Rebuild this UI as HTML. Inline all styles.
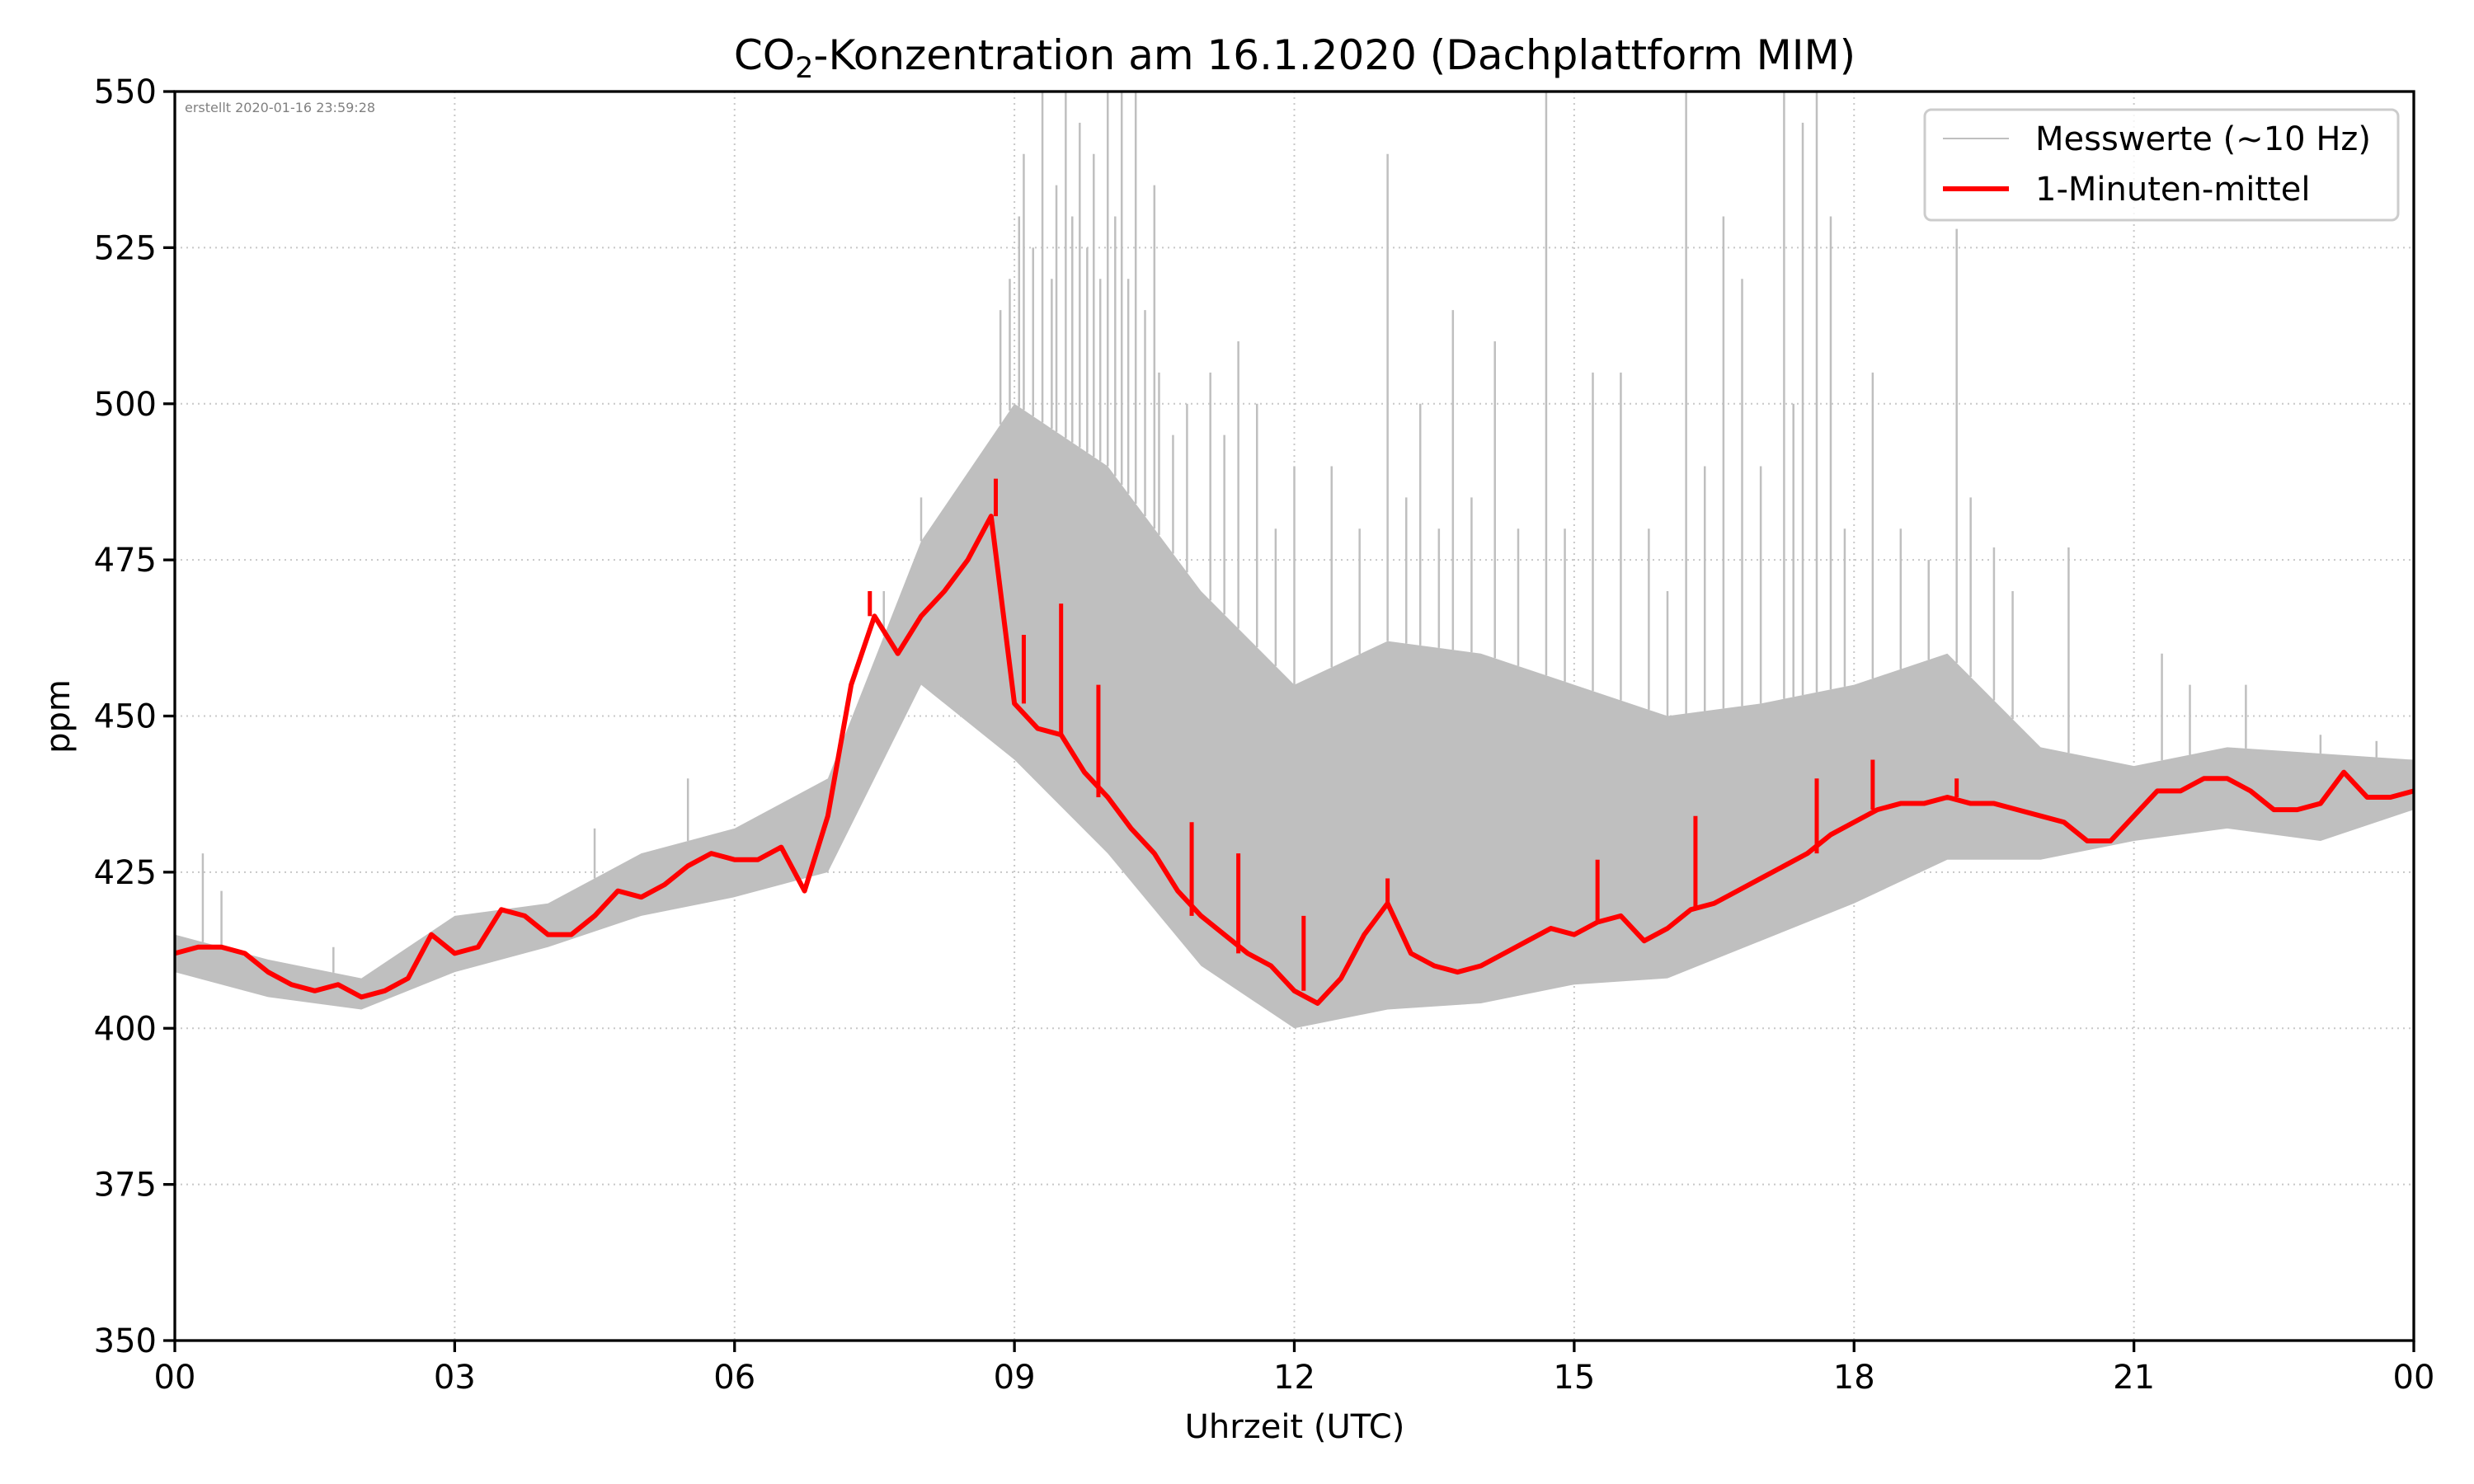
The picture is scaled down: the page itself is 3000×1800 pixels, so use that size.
<!DOCTYPE html>
<html><head><meta charset="utf-8"><style>
body{margin:0;background:#fff}
svg{display:block;font-family:"DejaVu Sans","Liberation Sans",sans-serif}
</style></head><body>
<svg id="chart" width="3000" height="1800" viewBox="0 0 3000 1800" xmlns="http://www.w3.org/2000/svg">
<rect width="3000" height="1800" fill="#fff"/>
<g id="grid"></g>
<g id="plot"></g>
<g id="axes"></g>
<text x="1570" y="84" font-size="50" text-anchor="middle">CO<tspan font-size="35" dy="10">2</tspan><tspan dy="-10">-Konzentration am 16.1.2020 (Dachplattform MIM)</tspan></text>
<text x="224" y="136" font-size="16" fill="#808080">erstellt 2020-01-16 23:59:28</text>
<text x="1570" y="1744" font-size="40" text-anchor="middle">Uhrzeit (UTC)</text>
<text transform="translate(84,869) rotate(-90)" font-size="40" text-anchor="middle">ppm</text>
<g>
<rect x="2334" y="133" width="574" height="134" rx="8" fill="#fff" fill-opacity="0.8" stroke="#ccc" stroke-width="3"/>
<line x1="2356" y1="168" x2="2436" y2="168" stroke="#bfbfbf" stroke-width="2"/>
<text x="2468" y="182" font-size="40">Messwerte (~10 Hz)</text>
<line x1="2356" y1="229" x2="2436" y2="229" stroke="#f00" stroke-width="6"/>
<text x="2468" y="243" font-size="40">1-Minuten-mittel</text>
</g>
</svg>
<script>
const xTicks=[0,3,6,9,12,15,18,21,24];
const xTickLabels=["00","03","06","09","12","15","18","21","00"];
const yTicks=[350,375,400,425,450,475,500,525,550];
const meanValues=[412,413,413,412,409,407,406,407,405,406,408,415,412,413,419,418,415,415,418,422,421,423,426,428,427,427,429,422,434,455,466,460,466,470,475,482,452,448,447,441,437,432,428,422,418,415,412,410,406,404,408,415,420,412,410,409,410,412,414,416,415,417,418,414,416,419,420,422,424,426,428,431,433,435,436,436,437,436,436,435,434,433,430,430,434,438,438,440,440,438,435,435,436,441,437,437,438];
const meanPeaks=[[9.1,463],[9.5,468],[9.9,455],[10.9,433],[11.4,428],[12.1,418],[13.0,424],[15.25,427],[16.3,434],[17.6,440],[18.2,443],[19.1,440],[8.8,488],[7.45,470]];
const rawLow=[409,405,403,409,413,418,421,425,455,443,428,410,400,403,404,407,408,414,420,427,427,430,432,430,435];
const rawHigh=[415,411,408,418,420,428,432,440,478,500,490,470,455,462,460,455,450,452,455,460,445,442,445,444,443];
const rawSpikes=[[8.85,515],[8.95,520],[9.05,530],[9.1,540],[9.2,525],[9.3,550],[9.4,520],[9.45,535],[9.55,550],[9.62,530],[9.7,545],[9.78,525],[9.85,540],[9.92,520],[10.0,550],[10.08,530],[10.15,550],[10.22,520],[10.3,550],[10.4,515],[10.5,535],[10.55,505],[10.7,495],[10.85,500],[11.1,505],[11.25,495],[11.4,510],[11.6,500],[11.8,480],[12.0,490],[12.4,490],[12.7,480],[13.0,540],[13.2,485],[13.35,500],[13.55,480],[13.7,515],[13.9,485],[14.15,510],[14.4,480],[14.7,550],[14.9,480],[15.2,505],[15.5,505],[15.8,480],[16.0,470],[16.2,550],[16.4,490],[16.6,530],[16.8,520],[17.0,490],[17.25,550],[17.35,500],[17.45,545],[17.6,550],[17.75,530],[17.9,480],[18.2,505],[18.5,480],[18.8,475],[19.1,528],[19.25,485],[19.5,477],[19.7,470],[20.3,477],[21.3,460],[21.6,455],[22.2,455],[23.0,447],[23.6,446],[8.0,485],[7.6,470],[5.5,440],[4.5,432],[0.3,428],[0.5,422],[1.7,413]];

const L=212,R=2927,T=111,B=1626,NS="http://www.w3.org/2000/svg";
const xs=h=>L+(R-L)*h/24, ys=v=>B-(B-T)*(v-350)/200;
const clampY=v=>Math.max(T,ys(v));
function mk(tag,attrs,parent){const e=document.createElementNS(NS,tag);for(const k in attrs)e.setAttribute(k,attrs[k]);parent.appendChild(e);return e;}
const grid=document.getElementById('grid'),plot=document.getElementById('plot'),axes=document.getElementById('axes');
xTicks.forEach((t,i)=>{
 const g=mk('line',{x1:xs(t),x2:xs(t),y1:T,y2:B,stroke:'#c8c8c8','stroke-width':2,'stroke-dasharray':'2 5'},grid);
 
 
 const k=mk('line',{x1:xs(t),x2:xs(t),y1:B,y2:B+14,stroke:'#000','stroke-width':3.3},axes);
 
 
 const l=mk('text',{x:xs(t),y:1684,'font-size':40,'text-anchor':'middle'},axes);l.textContent=xTickLabels[i];
 
 
});
yTicks.forEach(v=>{
 const g=mk('line',{x1:L,x2:R,y1:ys(v),y2:ys(v),stroke:'#c8c8c8','stroke-width':2,'stroke-dasharray':'2 5'},grid);
 
 
 const k=mk('line',{x1:L-14,x2:L,y1:ys(v),y2:ys(v),stroke:'#000','stroke-width':3.3},axes);
 
 
 const l=mk('text',{x:L-22,y:ys(v)+14,'font-size':40,'text-anchor':'end'},axes);l.textContent=v;
 
 
});
let d='';rawHigh.forEach((v,i)=>{d+=(i?'L':'M')+xs(i)+','+ys(v);});
for(let i=rawLow.length-1;i>=0;i--)d+='L'+xs(i)+','+ys(rawLow[i]);
const env=mk('path',{d:d+'Z',fill:'#bfbfbf'},plot);


function interp(arr,t){const i=Math.min(arr.length-2,Math.floor(t));const f=t-i;return arr[i]*(1-f)+arr[i+1]*f;}
rawSpikes.forEach(s=>{
 const sp=mk('line',{x1:xs(s[0]),x2:xs(s[0]),y1:ys(interp(rawHigh,s[0])),y2:clampY(s[1]),stroke:'#bfbfbf','stroke-width':2.5},plot);
 
 
});
meanPeaks.forEach(s=>{
 const i=Math.round(s[0]*4);
 const p=mk('line',{x1:xs(s[0]),x2:xs(s[0]),y1:ys(meanValues[i]),y2:ys(s[1]),stroke:'#f00','stroke-width':5},plot);
 
 
});
let md='';meanValues.forEach((v,i)=>{md+=(i?'L':'M')+xs(i/4)+','+ys(v);});
const ml=mk('path',{d:md,fill:'none',stroke:'#f00','stroke-width':6,'stroke-linejoin':'round'},plot);


const fr=mk('rect',{x:L,y:T,width:R-L,height:B-T,fill:'none',stroke:'#000','stroke-width':3.3},axes);


</script>
</body></html>
